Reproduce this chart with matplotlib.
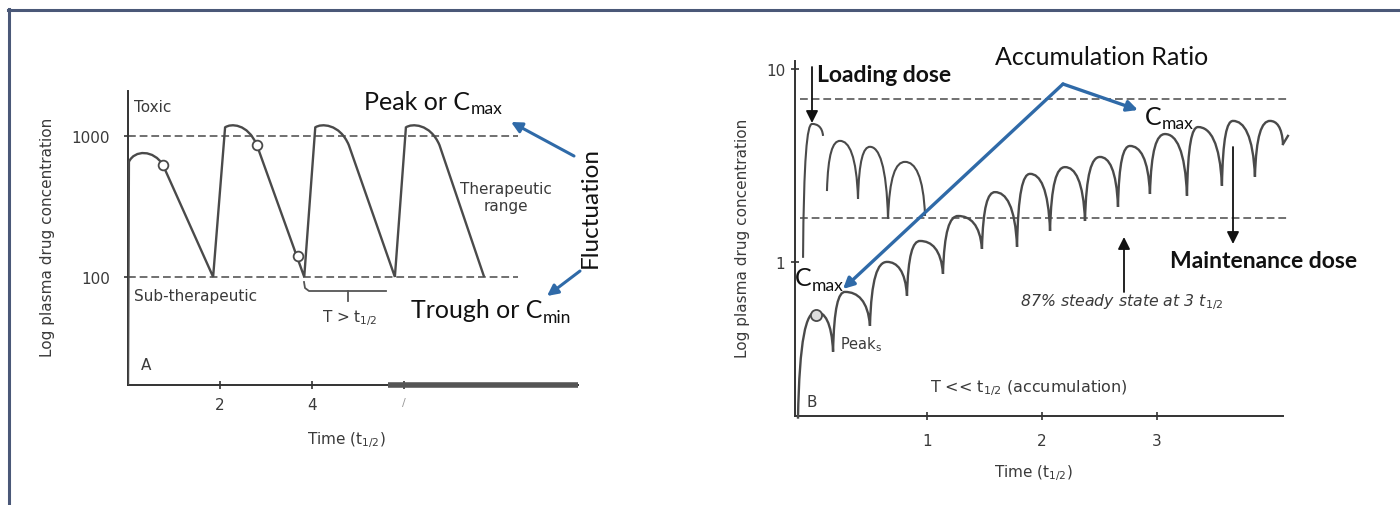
import matplotlib
matplotlib.use("Agg")
import matplotlib.pyplot as plt
from matplotlib.path import Path
from matplotlib.patches import PathPatch, FancyArrowPatch
from matplotlib.lines import Line2D
from matplotlib.ticker import NullLocator

# ---------------- Panel A data (T > t1/2) ----------------
A_xlim = (0.0, 9.78)
A_ylim = (17.1, 2085)
A_xticks = [2, 4, 6]
A_xticklabels = ['2', '4', '/']
A_yticks = [100, 1000]
A_yticklabels = ['100', '1000']
A_limits = [100, 1000]                 # therapeutic range bounds (dashed)
A_limit_end = 8.48
A_start = (0.0, 17.1)
A_rise_t = [0.02, 2.11, 4.07, 6.04]
A_rise_c = [655, 1150, 1150, 1150]
A_top_c = [800, 1230, 1230, 1230]
A_fall_t = [0.76, 2.80, 4.80, 6.77]
A_fall_c = [622, 863, 860, 860]
A_trough_t = [1.85, 3.83, 5.80, 7.74]
A_trough_c = [100, 100, 100, 100]
A_circle_t = [0.76, 2.80, 3.70]
A_circle_c = [622, 863, 141]
A_thick_axis = (5.65, 9.78)

# ---------------- Panel B data (T << t1/2) ----------------
B_xlim = (-0.148, 4.096)
B_ylim = (0.159, 11.0)
B_xticks = [1, 2, 3]
B_xticklabels = ['1', '2', '3']
B_yticks = [1, 10]
B_yticklabels = ['1', '10']
B_limits = [1.69, 7.0]
B_limit_span = (-0.104, 4.157)
# maintenance dosing (accumulating curve)
B_low_start = (-0.122, 0.154)
B_low_peak_t = [0.035, 0.287, 0.652, 0.939, 1.270, 1.591, 1.896, 2.200, 2.504, 2.765, 3.070, 3.357, 3.661, 3.983]
B_low_peak_c = [0.551, 0.699, 1.00, 1.284, 1.73, 2.30, 2.86, 3.10, 3.50, 3.99, 4.60, 5.00, 5.38, 5.38]
B_low_trough_t = [0.183, 0.504, 0.826, 1.139, 1.478, 1.783, 2.070, 2.374, 2.661, 2.939, 3.261, 3.565, 3.852, 4.096]
B_low_trough_c = [0.342, 0.466, 0.667, 0.867, 1.168, 1.196, 1.447, 1.630, 1.927, 2.25, 2.20, 2.48, 2.76, 4.08]
B_low_tail = (4.139, 4.5)
# loading dose curve
B_up_start_t = [-0.078, 0.130, 0.400, 0.661]
B_up_start_c = [1.05, 2.33, 2.12, 1.67]
B_up_peak_t = [0.0, 0.243, 0.504, 0.809]
B_up_peak_c = [5.19, 4.24, 3.95, 3.30]
B_up_end_t = [0.096, 0.400, 0.661, 0.983]
B_up_end_c = [4.50, 2.12, 1.67, 1.73]
B_circle = (0.035, 0.53)

# ---------------- style ----------------
SCAN = '#3a3a3a'
CURVE = '#4a4a4a'
DASH = '#707070'
BLUE = '#2f6aa8'
CAL = ['Lato', 'DejaVu Sans']

fig = plt.figure(figsize=(14, 5.06), dpi=100)
fig.patch.set_facecolor('white')


def style_axes(ax):
    for s in ('top', 'right'):
        ax.spines[s].set_visible(False)
    for s in ('left', 'bottom'):
        ax.spines[s].set_color('#333333')
        ax.spines[s].set_linewidth(1.4)
    ax.set_yscale('log')
    ax.yaxis.set_minor_locator(NullLocator())
    ax.xaxis.set_minor_locator(NullLocator())
    ax.tick_params(direction='inout', length=6, width=1.2, color='#333333',
                   labelsize=11, labelcolor=SCAN)
    ax.patch.set_alpha(0)


# ---------------- Panel A ----------------
axA = fig.add_axes([128 / 1400, (506 - 386) / 506, 450 / 1400, 294 / 506])
style_axes(axA)
axA.set_xlim(*A_xlim)
axA.set_ylim(*A_ylim)
axA.set_xticks(A_xticks)
labs = axA.set_xticklabels(A_xticklabels)
labs[2].set_color('#999999')
labs[2].set_fontsize(8)
axA.set_yticks(A_yticks)
axA.set_yticklabels(A_yticklabels)
axA.tick_params(axis='y', pad=10)
axA.tick_params(axis='x', pad=6)

for lvl in A_limits:
    axA.plot([A_xlim[0], A_limit_end], [lvl, lvl], color=DASH, lw=1.4,
             dashes=(4, 2), zorder=2)

verts = [A_start]
codes = [Path.MOVETO]
for i in range(len(A_rise_t)):
    verts += [(A_rise_t[i], A_rise_c[i]),
              (A_rise_t[i] + 0.12, A_top_c[i]),
              (A_fall_t[i] - 0.2, A_top_c[i]),
              (A_fall_t[i], A_fall_c[i]),
              (A_trough_t[i], A_trough_c[i])]
    codes += [Path.LINETO, Path.CURVE4, Path.CURVE4, Path.CURVE4, Path.LINETO]
axA.add_patch(PathPatch(Path(verts, codes), fill=False, edgecolor=CURVE,
                        lw=1.7, zorder=3))
axA.plot(A_circle_t, A_circle_c, 'o', mfc='white', mec=CURVE, ms=7, mew=1.3,
         zorder=4)
axA.plot(A_thick_axis, [A_ylim[0]] * 2, color='#555555', lw=4,
         solid_capstyle='butt', clip_on=False, zorder=5)


# ---------------- Panel B ----------------
axB = fig.add_axes([795 / 1400, (506 - 417) / 506, 488 / 1400, 355 / 506])
style_axes(axB)
axB.set_xlim(*B_xlim)
axB.set_ylim(*B_ylim)
axB.set_xticks(B_xticks)
axB.set_xticklabels(B_xticklabels)
axB.set_yticks(B_yticks)
axB.set_yticklabels(B_yticklabels)
axB.tick_params(axis='y', pad=4)
axB.tick_params(axis='x', pad=9)

for lvl in B_limits:
    axB.plot(B_limit_span, [lvl, lvl], color=DASH, lw=1.4, dashes=(4, 2),
             clip_on=False, zorder=2)


def arch_path(st, pk, en):
    verts, codes = [], []
    for (xs, ys), (xp, yp), (xe, ye) in zip(st, pk, en):
        d1 = xp - xs
        d2 = xe - xp
        verts += [(xs, ys), (xs + 0.08 * d1, ys * (yp / ys) ** 0.75),
                  (xp - 0.55 * d1, yp), (xp, yp),
                  (xp + 0.5 * d2, yp), (xe - 0.08 * d2, ye * (yp / ye) ** 0.75),
                  (xe, ye)]
        codes += [Path.MOVETO] + [Path.CURVE4] * 6
    return Path(verts, codes)


low_st = [B_low_start] + list(zip(B_low_trough_t[:-1], B_low_trough_c[:-1]))
low_pk = list(zip(B_low_peak_t, B_low_peak_c))
low_en = list(zip(B_low_trough_t, B_low_trough_c))
axB.add_patch(PathPatch(arch_path(low_st, low_pk, low_en), fill=False,
                        edgecolor=CURVE, lw=1.7, zorder=3, clip_on=False))
axB.plot([B_low_trough_t[-1], B_low_tail[0]], [B_low_trough_c[-1], B_low_tail[1]],
         color=CURVE, lw=1.7, clip_on=False, zorder=3)

up_st = list(zip(B_up_start_t, B_up_start_c))
up_pk = list(zip(B_up_peak_t, B_up_peak_c))
up_en = list(zip(B_up_end_t, B_up_end_c))
axB.add_patch(PathPatch(arch_path(up_st, up_pk, up_en), fill=False,
                        edgecolor=CURVE, lw=1.5, zorder=3, clip_on=False))
axB.plot([B_circle[0]], [B_circle[1]], 'o', mfc='#dddddd', mec=CURVE, ms=8,
         mew=1.3, zorder=4)

# ---------------- overlay (annotations) ----------------
ov = fig.add_axes([0, 0, 1, 1])
ov.set_xlim(0, 1400)
ov.set_ylim(506, 0)
ov.axis('off')
ov.set_zorder(10)

# frame
ov.add_line(Line2D([8, 1400], [10.5, 10.5], color='#4a5878', lw=2.2))
ov.add_line(Line2D([8.5, 8.5], [10, 506], color='#4a5878', lw=2.2))


def stext(x, y, s, **kw):
    kw.setdefault('fontsize', 11)
    kw.setdefault('color', SCAN)
    kw.setdefault('va', 'center')
    return ov.text(x, y, s, **kw)


def ctext(x, y, base, sub, size=18, weight='normal', ha='left', color='#111111'):
    t = ov.text(x, y, base, fontsize=size, family=CAL, va='center', ha=ha,
                color=color, fontweight=weight)
    ov.annotate(sub, xy=(1, 0), xycoords=t, xytext=(0.3, -0.5),
                textcoords='offset points', fontsize=size * 0.7, family=CAL,
                va='baseline', ha='left', color=color)
    return t


def arrow(p0, p1, color, lw, ms=16):
    ov.add_patch(FancyArrowPatch(p0, p1, arrowstyle='-|>', mutation_scale=ms,
                                 color=color, lw=lw, shrinkA=0, shrinkB=0))


# Panel A texts
stext(134, 107, 'Toxic')
stext(134, 297, 'Sub-therapeutic')
stext(506, 198, 'Therapeutic\nrange', ha='center', linespacing=1.2)
stext(350, 318, r'T > t$_{1/2}$', ha='center')
stext(146, 365, 'A', ha='center')
stext(346, 440, r'Time (t$_{1/2}$)', ha='center')
stext(48, 237, 'Log plasma drug concentration', rotation=90, ha='center')
ov.plot([304, 305, 309, 386], [283, 289, 292, 292], color='#555555', lw=1.3)
ov.plot([348, 348], [292, 302], color='#555555', lw=1.3)

ctext(364, 102, 'Peak or C', 'max')
ctext(411, 311, 'Trough or C', 'min')
ov.text(590, 207, 'Fluctuation', fontsize=17.5, family=CAL, rotation=90,
        ha='center', va='center', color='#111111')
arrow((574, 157), (511, 123), BLUE, 2.2)
arrow((580, 272), (547, 297), BLUE, 2.2)

# Panel B texts
stext(742, 238, 'Log plasma drug concentration', rotation=90, ha='center')
stext(1033, 473, r'Time (t$_{1/2}$)', ha='center')
stext(812, 403, 'B', ha='center')
stext(930, 388, r'T << t$_{1/2}$ (accumulation)', fontsize=11.5)
stext(1020, 302, r'87% steady state at 3 t$_{1/2}$', fontsize=11.3, style='italic')
stext(840, 345, r'Peak$_{\rm s}$', fontsize=10.5)

ov.text(817, 75, 'Loading dose', fontsize=16.5, family=CAL, fontweight='bold',
        ha='left', va='center', color='#111111')
ov.text(1170, 262, 'Maintenance dose', fontsize=16.5, family=CAL,
        fontweight='bold', ha='left', va='center', color='#111111')
ov.text(995, 57, 'Accumulation Ratio', fontsize=18, family=CAL, ha='left',
        va='center', color='#111111')
ctext(1145, 117, 'C', 'max')
ctext(795, 279, 'C', 'max')

arrow((812, 68), (812, 124), '#111111', 1.3, ms=18)
arrow((1233, 148), (1233, 245), '#111111', 1.3, ms=18)
arrow((1124, 293), (1124, 238), '#111111', 1.3, ms=18)
arrow((1063, 85), (843, 290), BLUE, 2.4)
arrow((1063, 85), (1138, 111), BLUE, 2.4)

fig.savefig('out.png', dpi=100, facecolor='white')
